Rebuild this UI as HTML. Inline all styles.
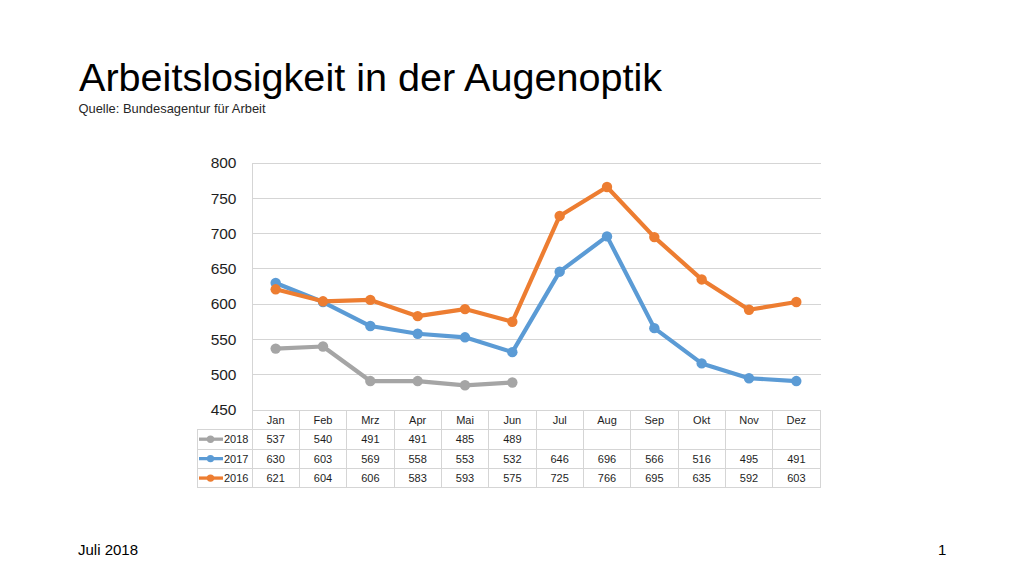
<!DOCTYPE html>
<html><head><meta charset="utf-8"><style>
html,body{margin:0;padding:0;background:#fff;}
body{width:1024px;height:576px;position:relative;overflow:hidden;font-family:"Liberation Sans",sans-serif;color:#000;}
.t{position:absolute;white-space:nowrap;line-height:1;}
svg{position:absolute;left:0;top:0;}
svg text{font-family:"Liberation Sans",sans-serif;fill:#1e1e1e;}
</style></head><body>
<div class="t" id="title" style="left:79px;top:57.6px;font-size:39.6px;">Arbeitslosigkeit in der Augenoptik</div>
<div class="t" id="sub" style="left:78.5px;top:102.6px;font-size:12.9px;color:#262626;">Quelle: Bundesagentur für Arbeit</div>
<svg width="1024" height="576" viewBox="0 0 1024 576">
<line x1="252.0" y1="163.5" x2="821.0" y2="163.5" stroke="#d5d5d5" stroke-width="1"/><line x1="252.0" y1="198.5" x2="821.0" y2="198.5" stroke="#d5d5d5" stroke-width="1"/><line x1="252.0" y1="233.5" x2="821.0" y2="233.5" stroke="#d5d5d5" stroke-width="1"/><line x1="252.0" y1="268.5" x2="821.0" y2="268.5" stroke="#d5d5d5" stroke-width="1"/><line x1="252.0" y1="304.5" x2="821.0" y2="304.5" stroke="#d5d5d5" stroke-width="1"/><line x1="252.0" y1="339.5" x2="821.0" y2="339.5" stroke="#d5d5d5" stroke-width="1"/><line x1="252.0" y1="374.5" x2="821.0" y2="374.5" stroke="#d5d5d5" stroke-width="1"/><line x1="252.0" y1="410.5" x2="821.0" y2="410.5" stroke="#d5d5d5" stroke-width="1"/><line x1="252.5" y1="163.0" x2="252.5" y2="410.0" stroke="#d5d5d5" stroke-width="1"/><line x1="252.0" y1="410.5" x2="821.0" y2="410.5" stroke="#d5d5d5" stroke-width="1"/><line x1="197.0" y1="429.5" x2="821.0" y2="429.5" stroke="#d5d5d5" stroke-width="1"/><line x1="197.0" y1="449.5" x2="821.0" y2="449.5" stroke="#d5d5d5" stroke-width="1"/><line x1="197.0" y1="468.5" x2="821.0" y2="468.5" stroke="#d5d5d5" stroke-width="1"/><line x1="197.0" y1="487.5" x2="821.0" y2="487.5" stroke="#d5d5d5" stroke-width="1"/><line x1="252.5" y1="410.0" x2="252.5" y2="488.0" stroke="#d5d5d5" stroke-width="1"/><line x1="299.5" y1="410.0" x2="299.5" y2="488.0" stroke="#d5d5d5" stroke-width="1"/><line x1="346.5" y1="410.0" x2="346.5" y2="488.0" stroke="#d5d5d5" stroke-width="1"/><line x1="394.5" y1="410.0" x2="394.5" y2="488.0" stroke="#d5d5d5" stroke-width="1"/><line x1="441.5" y1="410.0" x2="441.5" y2="488.0" stroke="#d5d5d5" stroke-width="1"/><line x1="488.5" y1="410.0" x2="488.5" y2="488.0" stroke="#d5d5d5" stroke-width="1"/><line x1="536.5" y1="410.0" x2="536.5" y2="488.0" stroke="#d5d5d5" stroke-width="1"/><line x1="583.5" y1="410.0" x2="583.5" y2="488.0" stroke="#d5d5d5" stroke-width="1"/><line x1="630.5" y1="410.0" x2="630.5" y2="488.0" stroke="#d5d5d5" stroke-width="1"/><line x1="678.5" y1="410.0" x2="678.5" y2="488.0" stroke="#d5d5d5" stroke-width="1"/><line x1="725.5" y1="410.0" x2="725.5" y2="488.0" stroke="#d5d5d5" stroke-width="1"/><line x1="772.5" y1="410.0" x2="772.5" y2="488.0" stroke="#d5d5d5" stroke-width="1"/><line x1="820.5" y1="410.0" x2="820.5" y2="488.0" stroke="#d5d5d5" stroke-width="1"/><line x1="197.5" y1="429.0" x2="197.5" y2="488.0" stroke="#d5d5d5" stroke-width="1"/><polyline points="275.67,348.60 323.00,346.49 370.33,381.07 417.67,381.07 465.00,385.30 512.33,382.48" fill="none" stroke="#a5a5a5" stroke-width="4.2" stroke-linejoin="round" stroke-linecap="round"/><circle cx="275.67" cy="348.60" r="5.2" fill="#a5a5a5"/><circle cx="323.00" cy="346.49" r="5.2" fill="#a5a5a5"/><circle cx="370.33" cy="381.07" r="5.2" fill="#a5a5a5"/><circle cx="417.67" cy="381.07" r="5.2" fill="#a5a5a5"/><circle cx="465.00" cy="385.30" r="5.2" fill="#a5a5a5"/><circle cx="512.33" cy="382.48" r="5.2" fill="#a5a5a5"/><polyline points="275.67,282.97 323.00,302.03 370.33,326.02 417.67,333.78 465.00,337.31 512.33,352.13 559.67,271.68 607.00,236.39 654.33,328.14 701.67,363.42 749.00,378.24 796.33,381.07" fill="none" stroke="#5b9bd5" stroke-width="4.2" stroke-linejoin="round" stroke-linecap="round"/><circle cx="275.67" cy="282.97" r="5.2" fill="#5b9bd5"/><circle cx="323.00" cy="302.03" r="5.2" fill="#5b9bd5"/><circle cx="370.33" cy="326.02" r="5.2" fill="#5b9bd5"/><circle cx="417.67" cy="333.78" r="5.2" fill="#5b9bd5"/><circle cx="465.00" cy="337.31" r="5.2" fill="#5b9bd5"/><circle cx="512.33" cy="352.13" r="5.2" fill="#5b9bd5"/><circle cx="559.67" cy="271.68" r="5.2" fill="#5b9bd5"/><circle cx="607.00" cy="236.39" r="5.2" fill="#5b9bd5"/><circle cx="654.33" cy="328.14" r="5.2" fill="#5b9bd5"/><circle cx="701.67" cy="363.42" r="5.2" fill="#5b9bd5"/><circle cx="749.00" cy="378.24" r="5.2" fill="#5b9bd5"/><circle cx="796.33" cy="381.07" r="5.2" fill="#5b9bd5"/><polyline points="275.67,289.32 323.00,301.32 370.33,299.91 417.67,316.14 465.00,309.08 512.33,321.79 559.67,215.93 607.00,186.99 654.33,237.10 701.67,279.44 749.00,309.79 796.33,302.03" fill="none" stroke="#ed7d31" stroke-width="4.2" stroke-linejoin="round" stroke-linecap="round"/><circle cx="275.67" cy="289.32" r="5.2" fill="#ed7d31"/><circle cx="323.00" cy="301.32" r="5.2" fill="#ed7d31"/><circle cx="370.33" cy="299.91" r="5.2" fill="#ed7d31"/><circle cx="417.67" cy="316.14" r="5.2" fill="#ed7d31"/><circle cx="465.00" cy="309.08" r="5.2" fill="#ed7d31"/><circle cx="512.33" cy="321.79" r="5.2" fill="#ed7d31"/><circle cx="559.67" cy="215.93" r="5.2" fill="#ed7d31"/><circle cx="607.00" cy="186.99" r="5.2" fill="#ed7d31"/><circle cx="654.33" cy="237.10" r="5.2" fill="#ed7d31"/><circle cx="701.67" cy="279.44" r="5.2" fill="#ed7d31"/><circle cx="749.00" cy="309.79" r="5.2" fill="#ed7d31"/><circle cx="796.33" cy="302.03" r="5.2" fill="#ed7d31"/>
<text x="236.5" y="168.30" text-anchor="end" font-size="15.5">800</text><text x="236.5" y="203.59" text-anchor="end" font-size="15.5">750</text><text x="236.5" y="238.87" text-anchor="end" font-size="15.5">700</text><text x="236.5" y="274.16" text-anchor="end" font-size="15.5">650</text><text x="236.5" y="309.44" text-anchor="end" font-size="15.5">600</text><text x="236.5" y="344.73" text-anchor="end" font-size="15.5">550</text><text x="236.5" y="380.01" text-anchor="end" font-size="15.5">500</text><text x="236.5" y="415.30" text-anchor="end" font-size="15.5">450</text><text x="275.67" y="423.73" text-anchor="middle" font-size="11">Jan</text><text x="323.00" y="423.73" text-anchor="middle" font-size="11">Feb</text><text x="370.33" y="423.73" text-anchor="middle" font-size="11">Mrz</text><text x="417.67" y="423.73" text-anchor="middle" font-size="11">Apr</text><text x="465.00" y="423.73" text-anchor="middle" font-size="11">Mai</text><text x="512.33" y="423.73" text-anchor="middle" font-size="11">Jun</text><text x="559.67" y="423.73" text-anchor="middle" font-size="11">Jul</text><text x="607.00" y="423.73" text-anchor="middle" font-size="11">Aug</text><text x="654.33" y="423.73" text-anchor="middle" font-size="11">Sep</text><text x="701.67" y="423.73" text-anchor="middle" font-size="11">Okt</text><text x="749.00" y="423.73" text-anchor="middle" font-size="11">Nov</text><text x="796.33" y="423.73" text-anchor="middle" font-size="11">Dez</text><text x="275.67" y="443.18" text-anchor="middle" font-size="11">537</text><text x="323.00" y="443.18" text-anchor="middle" font-size="11">540</text><text x="370.33" y="443.18" text-anchor="middle" font-size="11">491</text><text x="417.67" y="443.18" text-anchor="middle" font-size="11">491</text><text x="465.00" y="443.18" text-anchor="middle" font-size="11">485</text><text x="512.33" y="443.18" text-anchor="middle" font-size="11">489</text><line x1="199" y1="439.18" x2="223" y2="439.18" stroke="#a5a5a5" stroke-width="3.3"/><circle cx="210.5" cy="439.18" r="3.7" fill="#a5a5a5"/><text x="224" y="443.18" font-size="11">2018</text><text x="275.67" y="462.62" text-anchor="middle" font-size="11">630</text><text x="323.00" y="462.62" text-anchor="middle" font-size="11">603</text><text x="370.33" y="462.62" text-anchor="middle" font-size="11">569</text><text x="417.67" y="462.62" text-anchor="middle" font-size="11">558</text><text x="465.00" y="462.62" text-anchor="middle" font-size="11">553</text><text x="512.33" y="462.62" text-anchor="middle" font-size="11">532</text><text x="559.67" y="462.62" text-anchor="middle" font-size="11">646</text><text x="607.00" y="462.62" text-anchor="middle" font-size="11">696</text><text x="654.33" y="462.62" text-anchor="middle" font-size="11">566</text><text x="701.67" y="462.62" text-anchor="middle" font-size="11">516</text><text x="749.00" y="462.62" text-anchor="middle" font-size="11">495</text><text x="796.33" y="462.62" text-anchor="middle" font-size="11">491</text><line x1="199" y1="458.62" x2="223" y2="458.62" stroke="#5b9bd5" stroke-width="3.3"/><circle cx="210.5" cy="458.62" r="3.7" fill="#5b9bd5"/><text x="224" y="462.62" font-size="11">2017</text><text x="275.67" y="482.08" text-anchor="middle" font-size="11">621</text><text x="323.00" y="482.08" text-anchor="middle" font-size="11">604</text><text x="370.33" y="482.08" text-anchor="middle" font-size="11">606</text><text x="417.67" y="482.08" text-anchor="middle" font-size="11">583</text><text x="465.00" y="482.08" text-anchor="middle" font-size="11">593</text><text x="512.33" y="482.08" text-anchor="middle" font-size="11">575</text><text x="559.67" y="482.08" text-anchor="middle" font-size="11">725</text><text x="607.00" y="482.08" text-anchor="middle" font-size="11">766</text><text x="654.33" y="482.08" text-anchor="middle" font-size="11">695</text><text x="701.67" y="482.08" text-anchor="middle" font-size="11">635</text><text x="749.00" y="482.08" text-anchor="middle" font-size="11">592</text><text x="796.33" y="482.08" text-anchor="middle" font-size="11">603</text><line x1="199" y1="478.08" x2="223" y2="478.08" stroke="#ed7d31" stroke-width="3.3"/><circle cx="210.5" cy="478.08" r="3.7" fill="#ed7d31"/><text x="224" y="482.08" font-size="11">2016</text>
</svg>
<div class="t" id="foot" style="left:78px;top:542px;font-size:15px;color:#000;">Juli 2018</div>
<div class="t" id="pg" style="left:938px;top:542px;font-size:15px;color:#000;">1</div>
</body></html>
